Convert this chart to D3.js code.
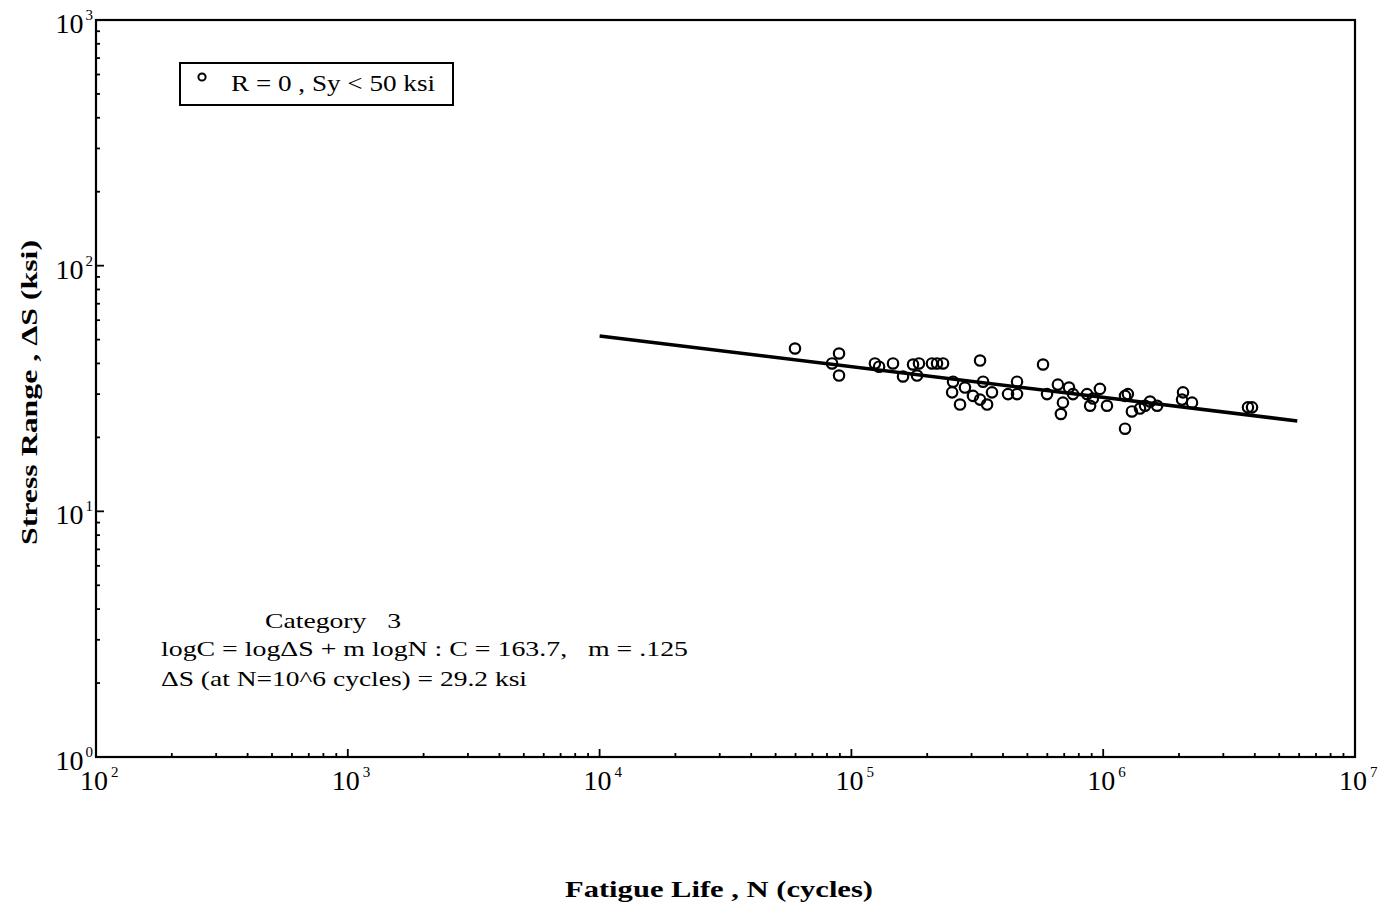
<!DOCTYPE html>
<html><head><meta charset="utf-8">
<script src="https://cdn.jsdelivr.net/npm/d3@7"></script>
<style>body{margin:0;background:#fff}svg{display:block}text{font-family:"Liberation Serif","Times New Roman",serif;fill:#000;white-space:pre}</style>
</head><body><svg id="c" width="1381" height="910"></svg>
<script>
// data: fatigue life N (cycles) and stress range dS (ksi)
const lifeN = [59700,83800,89300,89300,124000,128800,146300,160300,175700,185500,182200,208900,218800,231200,253300,251200,270000,324300,282500,304000,324300,333400,345900,361700,418800,454800,454800,576800,598400,660700,691800,679200,731300,758600,862600,910400,970500,887200,1035000,1253000,1221000,1300000,1221000,1400000,1535000,1637000,1466000,2075000,2056000,2253000,3758000,3900000];
const stressS = [46.0,40.0,43.9,35.7,40.0,38.8,40.0,35.4,39.6,40.0,35.7,40.0,40.0,40.0,33.7,30.5,27.2,41.1,31.9,29.5,28.5,33.7,27.2,30.5,30.0,30.0,33.7,39.6,30.0,32.8,27.7,24.9,31.9,30.0,30.0,28.8,31.5,26.9,26.9,30.0,29.5,25.5,21.7,26.2,28.0,26.9,26.9,30.5,28.5,27.7,26.5,26.5];
const fitC = 163.7, fitM = 0.125;
const fitRange = [10000, 5900000];
const xExps = [2,3,4,5,6,7];
const yExps = [0,1,2,3];
const legendLabel = "R = 0 , Sy < 50 ksi";
const noteLines = ["Category   3", "logC = logΔS + m logN : C = 163.7,   m = .125", "ΔS (at N=10^6 cycles) = 29.2 ksi"];
const xTitle = "Fatigue Life , N (cycles)";
const yTitle = "Stress Range , ΔS (ksi)";

const svg = d3.select("#c");
const L=96, R=1355, T=20, B=757;
const x = d3.scaleLog().domain([1e2,1e7]).range([L,R]);
const y = d3.scaleLog().domain([1,1e3]).range([B,T]);

// frame
svg.append("rect").attr("x",L).attr("y",T).attr("width",R-L).attr("height",B-T)
  .attr("fill","none").attr("stroke","#000").attr("stroke-width",2.2);

// ticks
const minorX=[], minorY=[];
for(let e=2;e<7;e++) for(let k=2;k<10;k++) minorX.push(k*Math.pow(10,e));
for(let e=0;e<3;e++) for(let k=2;k<10;k++) minorY.push(k*Math.pow(10,e));
const g = svg.append("g").attr("stroke","#000").attr("stroke-width",1.8);
g.selectAll(".mx").data(minorX).join("line").attr("x1",d=>x(d)).attr("x2",d=>x(d)).attr("y1",B).attr("y2",B-4);
g.selectAll(".Mx").data(xExps).join("line").attr("x1",d=>x(Math.pow(10,d))).attr("x2",d=>x(Math.pow(10,d))).attr("y1",B).attr("y2",B-8);
g.selectAll(".my").data(minorY).join("line").attr("y1",d=>y(d)).attr("y2",d=>y(d)).attr("x1",L).attr("x2",L+4);
g.selectAll(".My").data(yExps).join("line").attr("y1",d=>y(Math.pow(10,d))).attr("y2",d=>y(Math.pow(10,d))).attr("x1",L).attr("x2",L+8);

// tick labels
xExps.forEach(e=>{
  const t = svg.append("text").attr("x",x(Math.pow(10,e))-16).attr("y",B+33).attr("font-size",28);
  t.append("tspan").text("10");
  t.append("tspan").attr("dy",-13).attr("font-size",15).attr("dx",3).text(e);
});
yExps.forEach(e=>{
  const t = svg.append("text").attr("x",L-3).attr("y",y(Math.pow(10,e))+13).attr("font-size",28).attr("text-anchor","end");
  t.append("tspan").text("10");
  t.append("tspan").attr("dy",-13).attr("font-size",15).attr("dx",2).text(e);
});

// fit line
const fitPts = fitRange.map(n=>[n, fitC*Math.pow(n,-fitM)]);
svg.append("path").attr("d", d3.line().x(d=>x(d[0])).y(d=>y(d[1]))(fitPts))
  .attr("stroke","#000").attr("stroke-width",3.6).attr("fill","none");

// points
svg.append("g").selectAll("circle").data(lifeN.map((n,i)=>[n,stressS[i]])).join("circle")
  .attr("cx",d=>x(d[0])).attr("cy",d=>y(d[1])).attr("r",5.2)
  .attr("fill","none").attr("stroke","#000").attr("stroke-width",2.2);

// legend
svg.append("rect").attr("x",180).attr("y",63).attr("width",273).attr("height",42)
  .attr("fill","none").attr("stroke","#000").attr("stroke-width",2);
svg.append("circle").attr("cx",202).attr("cy",77).attr("r",3.6).attr("fill","none").attr("stroke","#000").attr("stroke-width",2);
svg.append("text").attr("x",231).attr("y",91).attr("font-size",24).attr("textLength",204).attr("lengthAdjust","spacingAndGlyphs").text(legendLabel);

// annotation
const notePos=[[265,628,136],[161,656,527],[161,686,366]];
noteLines.forEach((s,i)=>{
  svg.append("text").attr("x",notePos[i][0]).attr("y",notePos[i][1]).attr("font-size",22)
    .attr("textLength",notePos[i][2]).attr("lengthAdjust","spacingAndGlyphs").text(s);
});

// axis titles
svg.append("text").attr("x",565).attr("y",897).attr("font-size",23).attr("font-weight","bold")
  .attr("textLength",308).attr("lengthAdjust","spacingAndGlyphs").text(xTitle);
svg.append("text").attr("transform","translate(37,545) rotate(-90)").attr("font-size",23).attr("font-weight","bold")
  .attr("textLength",305).attr("lengthAdjust","spacingAndGlyphs").text(yTitle);
</script></body></html>
